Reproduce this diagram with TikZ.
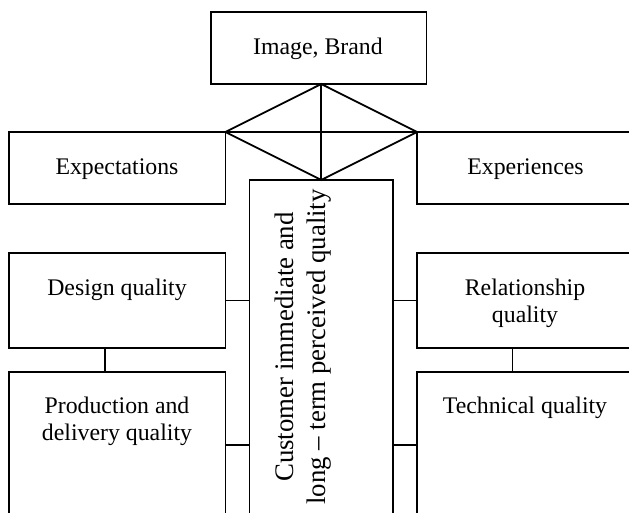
\documentclass[tikz,border=0pt]{standalone}
\usepackage{fontspec}
\setmainfont{Liberation Serif}
\begin{document}
\begin{tikzpicture}[x=1pt,y=-1pt,
  box/.style={draw,line width=1.8pt,inner sep=0pt,outer sep=0pt,rectangle},
  conn/.style={line width=1.8pt},
  lbl/.style={font=\fontsize{23.8}{26.5}\selectfont,align=center,inner sep=0pt},
  vlbl/.style={font=\fontsize{26.8}{32}\selectfont,align=center,inner sep=0pt,rotate=90}]
\useasboundingbox (0,0) rectangle (629,513);
\clip (0,0) rectangle (629,513);
% boxes
\node[box,minimum width=215.8pt,minimum height=72pt] (image) at (318.5,48) {};
\node[box,minimum width=216.6pt,minimum height=72pt] (expect) at (117.1,168) {};
\node[box,minimum width=217pt,minimum height=72pt] (exper) at (525.5,168) {};
\node[box,minimum width=216.6pt,minimum height=95pt] (design) at (117.1,300.5) {};
\node[box,minimum width=216.6pt,minimum height=146pt] (prod) at (117.1,445) {};
\node[box,minimum width=217pt,minimum height=95pt] (rel) at (525.5,300.5) {};
\node[box,minimum width=217pt,minimum height=146pt] (tech) at (525.5,445) {};
\node[box,minimum width=143.5pt,minimum height=350pt] (center) at (321.25,355) {};
% labels
\node[lbl,anchor=base] (t1) at (318,55) {Image, Brand};
\node[lbl,anchor=base] (t2) at (117,175) {Expectations};
\node[lbl,anchor=base] (t3) at (525.5,175) {Experiences};
\node[lbl,anchor=base] (t4) at (117,295.5) {Design quality};
\node[lbl,anchor=base] (t5) at (525,322) {Relationship\\quality};
\node[lbl,anchor=base] (t6) at (117,440) {Production and\\delivery quality};
\node[lbl,anchor=base] (t7) at (525,413.7) {Technical quality};
\node[vlbl,anchor=base] (t8) at (325,347) {Customer immediate and\\long -- term perceived quality};
% diamond
\coordinate (top) at (image.south -| center.north);
\draw[conn,line join=miter] (top) -- (expect.north east) -- (center.north) -- (exper.north west) -- cycle;
\draw[conn] (expect.north east) -- (exper.north west);
\draw[conn] (top) -- (center.north);
% connectors
\draw[conn] (design.east) -- (design.east -| center.west);
\draw[conn] (prod.east) -- (prod.east -| center.west);
\draw[conn] (rel.west) -- (rel.west -| center.east);
\draw[conn] (tech.west) -- (tech.west -| center.east);
\draw[conn] ([xshift=-12pt]design.south) -- ([xshift=-12pt]prod.north);
\draw[conn] ([xshift=-13pt]rel.south) -- ([xshift=-13pt]tech.north);
\end{tikzpicture}
\end{document}
